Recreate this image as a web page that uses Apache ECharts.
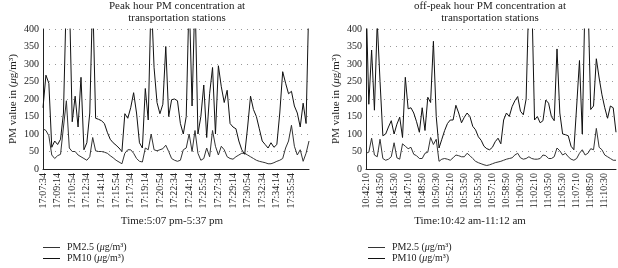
<!DOCTYPE html>
<html>
<head>
<meta charset="utf-8">
<script src="https://cdn.jsdelivr.net/npm/echarts@6/dist/echarts.min.js"></script>
<style>
  html, body { margin: 0; padding: 0; background: #fff; }
  #chart { width: 618px; height: 268px; }
</style>
</head>
<body>
<div id="chart"></div>
<script>
// peak hour: samples every 20 s from 17:07:34
const peakStart = '17:07:34';
const peakTickLabels = ['17:07:34', '17:09:14', '17:10:54', '17:12:34', '17:14:14', '17:15:54', '17:17:34', '17:19:14', '17:20:54',
  '17:22:34', '17:24:14', '17:25:54', '17:27:34', '17:29:14', '17:30:54', '17:32:34', '17:34:14', '17:35:54'];
const peakPM10 = [175, 268, 245, 62, 80, 70, 85, 160, 500, 500,
  135, 208, 120, 262, 55, 75, 160, 500, 145, 142,
  138, 130, 105, 85, 75, 68, 60, 50, 158, 145,
  175, 218, 160, 75, 60, 230, 140, 500, 290, 190,
  158, 185, 350, 150, 198, 200, 195, 130, 100, 150,
  500, 180, 500, 100, 150, 240, 90, 215, 290, 100,
  295, 235, 190, 225, 130, 120, 115, 80, 55, 42,
  120, 208, 170, 150, 115, 80, 70, 60, 75, 62,
  70, 160, 278, 245, 215, 222, 180, 160, 120, 188,
  130, 500];
const peakPM25 = [115, 110, 95, 40, 30, 38, 42, 120, 195, 60,
  50, 50, 40, 35, 30, 25, 35, 90, 52, 50,
  50, 48, 45, 38, 32, 25, 20, 15, 45, 55,
  55, 45, 30, 22, 20, 60, 55, 100, 55, 52,
  55, 58, 68, 50, 30, 25, 22, 25, 55, 60,
  100, 50, 110, 45, 25, 30, 60, 35, 110, 65,
  40, 65, 55, 35, 30, 28, 35, 40, 45, 45,
  40, 35, 30, 25, 22, 20, 18, 15, 15, 18,
  22, 25, 30, 60, 80, 125, 65, 40, 55, 22,
  45, 80];

// off-peak hour: samples every 20 s from 10:42:10
const offStart = '10:42:10';
const offTickLabels = ['10:42:10', '10:43:50', '10:45:30', '10:47:10', '10:48:50', '10:50:30', '10:52:10', '10:53:50', '10:55:30',
  '10:57:10', '10:58:50', '11:00:30', '11:02:10', '11:03:50', '11:05:30', '11:07:10', '11:08:50', '11:10:30'];
const offPM10 = [500, 185, 340, 168, 420, 250, 95, 100, 120, 138,
  100, 128, 148, 90, 262, 172, 175, 160, 135, 105,
  175, 110, 205, 190, 365, 150, 60, 85, 110, 130,
  140, 140, 182, 160, 132, 148, 160, 150, 122, 112,
  92, 82, 65, 58, 55, 62, 78, 88, 72, 140,
  160, 150, 178, 195, 207, 165, 155, 200, 500, 500,
  140, 150, 132, 138, 197, 188, 150, 138, 343, 160,
  100, 98, 95, 65, 55, 180, 310, 100, 500, 500,
  170, 180, 315, 260, 212, 175, 145, 180, 175, 105];
const offPM25 = [45, 48, 88, 40, 35, 85, 30, 25, 28, 35,
  75, 32, 28, 72, 65, 58, 62, 42, 38, 30,
  30, 45, 48, 90, 70, 85, 22, 28, 30, 28,
  25, 32, 40, 38, 35, 35, 45, 38, 30, 22,
  18, 15, 12, 10, 12, 15, 18, 20, 22, 25,
  28, 30, 32, 40, 45, 32, 28, 30, 35, 30,
  28, 28, 30, 40, 38, 30, 30, 35, 60, 52,
  40, 45, 35, 28, 25, 30, 45, 55, 40, 45,
  58, 55, 116, 62, 55, 40, 35, 30, 25, 25];

const yTicks = [0, 50, 100, 150, 200, 250, 300, 350, 400];

const SERIF = '"Liberation Serif", "DejaVu Serif", serif';
const INK = '#222';
const NAME25 = 'PM2.5 (μg/m³)';
const NAME10 = 'PM10 (μg/m³)';

function buildTimes(start, count, stepSec) {
  const p = start.split(':').map(Number);
  let t = p[0] * 3600 + p[1] * 60 + p[2];
  const out = [];
  for (let k = 0; k < count; k++) {
    const h = Math.floor(t / 3600), m = Math.floor(t / 60) % 60, s = t % 60;
    out.push(h + ':' + String(m).padStart(2, '0') + ':' + String(s).padStart(2, '0'));
    t += stepSec;
  }
  return out;
}

const peakTimes = buildTimes(peakStart, peakPM10.length, 20);
const offTimes = buildTimes(offStart, offPM10.length, 20);

const richMu = {
  i: { fontStyle: 'italic', fontFamily: SERIF, fontSize: 10, color: INK, lineHeight: 11 }
};

function xAxisFor(cats, ticks, gridIndex) {
  return {
    type: 'category',
    gridIndex: gridIndex,
    data: cats,
    boundaryGap: false,
    axisLine: { lineStyle: { color: INK, width: 1 } },
    axisTick: { show: false },
    axisLabel: {
      rotate: 90,
      fontFamily: SERIF,
      fontSize: 10,
      color: INK,
      margin: 4,
      interval: (idx, val) => ticks.indexOf(val) >= 0
    },
    splitLine: { show: false }
  };
}

function yAxisFor(gridIndex) {
  return {
    type: 'value',
    gridIndex: gridIndex,
    min: yTicks[0],
    max: yTicks[yTicks.length - 1],
    interval: 50,
    name: 'PM value in ({i|μ}g/m³)',
    nameLocation: 'middle',
    nameGap: 24,
    nameTextStyle: { fontFamily: SERIF, fontSize: 11, color: INK, rich: { i: { fontStyle: 'italic', fontFamily: SERIF, fontSize: 11, color: INK } } },
    axisLine: { show: true, lineStyle: { color: INK, width: 1 } },
    axisTick: { show: false },
    axisLabel: { fontFamily: SERIF, fontSize: 10, color: INK, margin: 4 },
    splitLine: { show: true, lineStyle: { color: '#999', type: [1, 5], width: 1 } }
  };
}

function lineSeries(name, data, idx, color) {
  return {
    name: name,
    type: 'line',
    xAxisIndex: idx,
    yAxisIndex: idx,
    data: data,
    symbol: 'none',
    lineStyle: { color: color, width: 1 },
    itemStyle: { color: color },
    animation: false
  };
}

function legendFor(id, left) {
  return {
    id: id,
    orient: 'vertical',
    left: left,
    top: 242,
    height: 26,
    padding: 0,
    itemGap: 0,
    itemWidth: 17,
    itemHeight: 1,
    icon: 'rect',
    data: [NAME25, NAME10],
    formatter: n => n.replace('μ', '{i|μ}'),
    textStyle: { fontFamily: SERIF, fontSize: 10, color: INK, lineHeight: 11, padding: [0, 0, 0, 2], rich: richMu }
  };
}

const chart = echarts.init(document.getElementById('chart'), null, { renderer: 'canvas' });

chart.setOption({
  animation: false,
  backgroundColor: '#fff',
  grid: [
    { left: 43, right: 309, top: 29, bottom: 99 },
    { left: 366, right: 2, top: 29, bottom: 99 }
  ],
  xAxis: [xAxisFor(peakTimes, peakTickLabels, 0), xAxisFor(offTimes, offTickLabels, 1)],
  yAxis: [yAxisFor(0), yAxisFor(1)],
  legend: [legendFor('legPeak', 43), legendFor('legOff', 368)],
  series: [
    lineSeries(NAME25, peakPM25, 0, '#333'),
    lineSeries(NAME10, peakPM10, 0, '#111'),
    lineSeries(NAME25, offPM25, 1, '#333'),
    lineSeries(NAME10, offPM10, 1, '#111')
  ],
  graphic: [
    { type: 'text', x: 177, y: 0, style: { text: 'Peak hour PM concentration at\ntransportation stations', font: '11px ' + SERIF, fill: INK, align: 'center', verticalAlign: 'top', lineHeight: 12 } },
    { type: 'text', x: 490, y: 0, style: { text: 'off-peak hour PM concentration at\ntransportation stations', font: '11px ' + SERIF, fill: INK, align: 'center', verticalAlign: 'top', lineHeight: 12 } },
    { type: 'text', x: 172, y: 221, style: { text: 'Time:5:07 pm-5:37 pm', font: '11px ' + SERIF, fill: INK, align: 'center', verticalAlign: 'middle' } },
    { type: 'text', x: 470, y: 221, style: { text: 'Time:10:42 am-11:12 am', font: '11px ' + SERIF, fill: INK, align: 'center', verticalAlign: 'middle' } }
  ]
});
</script>
</body>
</html>
